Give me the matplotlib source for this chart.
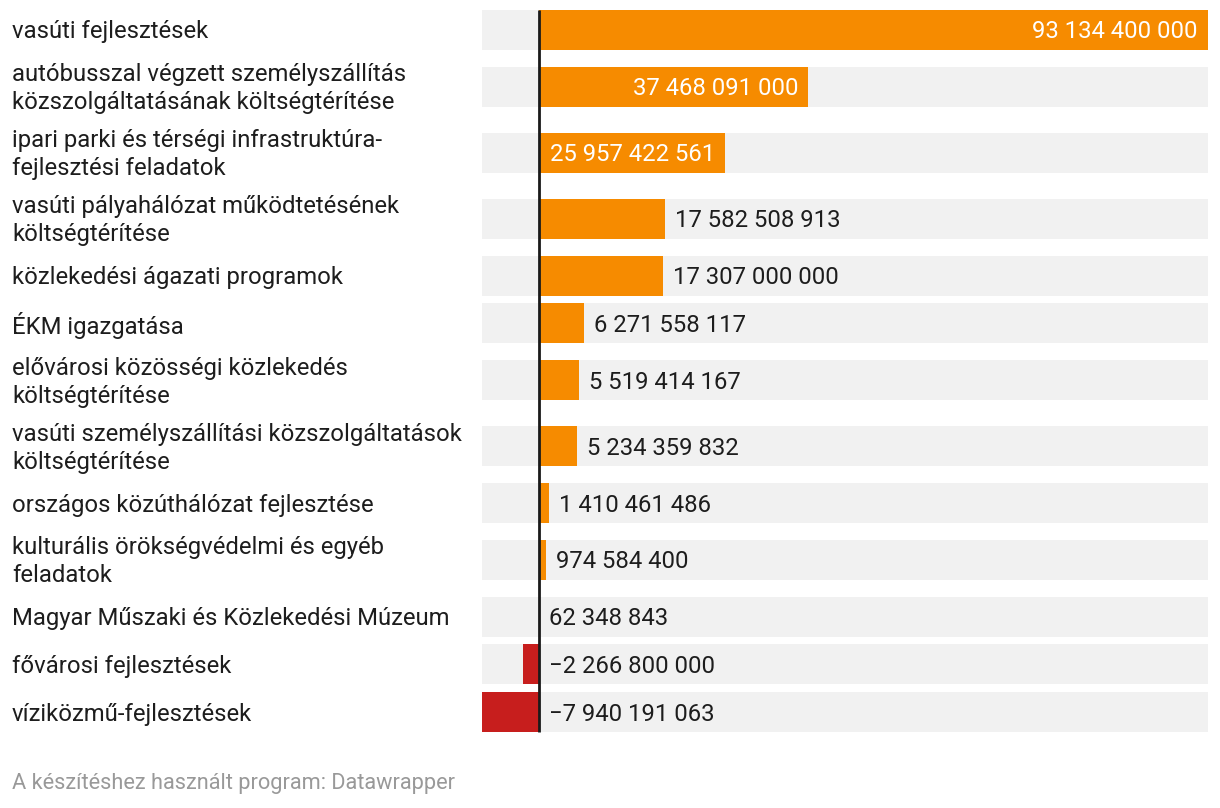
import matplotlib.pyplot as plt
from matplotlib.patches import Rectangle

plt.rcParams['font.family'] = ['Roboto', 'DejaVu Sans']

labels = [
    'vasúti fejlesztések',
    'autóbusszal végzett személyszállítás\nközszolgáltatásának költségtérítése',
    'ipari parki és térségi infrastruktúra-\nfejlesztési feladatok',
    'vasúti pályahálózat működtetésének\nköltségtérítése',
    'közlekedési ágazati programok',
    'ÉKM igazgatása',
    'elővárosi közösségi közlekedés\nköltségtérítése',
    'vasúti személyszállítási közszolgáltatások\nköltségtérítése',
    'országos közúthálózat fejlesztése',
    'kulturális örökségvédelmi és egyéb\nfeladatok',
    'Magyar Műszaki és Közlekedési Múzeum',
    'fővárosi fejlesztések',
    'víziközmű-fejlesztések',
]
values = [
    93134400000, 37468091000, 25957422561, 17582508913, 17307000000,
    6271558117, 5519414167, 5234359832, 1410461486, 974584400,
    62348843, -2266800000, -7940191063,
]
inside = [True, True, True] + [False] * 10

W, H = 1220, 808
ORANGE = '#f68b00'
RED = '#c71e1d'
BG = '#f1f1f1'
TEXT = '#1d1d1d'
FS = 17.2

# row block heights in px: one-line label ~48, two-line label 66
blocks = [47.7 if '\n' not in l else 66 for l in labels]
centers = []
acc = 0
for b in blocks:
    centers.append(acc + b / 2)
    acc += b
total = acc

fig = plt.figure(figsize=(W / 100, H / 100), dpi=100)
top_px = 6.1
ax = fig.add_axes([482 / W, 1 - (top_px + total) / H, 726 / W, total / H])
vmin, vmax = min(values), max(values)
ax.set_xlim(vmin, vmax)
ax.set_ylim(total, 0)
ax.axis('off')

bar_h = 40
px_per_val = 726 / (vmax - vmin)
pad = 10 / px_per_val
dy = 2  # text sits a bit lower than the geometric centre

for lab, v, c, ins in zip(labels, values, centers, inside):
    ax.add_patch(Rectangle((vmin, c - bar_h / 2), vmax - vmin, bar_h,
                           facecolor=BG, edgecolor='none', zorder=1))
    ax.barh(c, v, height=bar_h, color=ORANGE if v >= 0 else RED, zorder=2)
    txt = f'{abs(v):,}'.replace(',', ' ')
    if v < 0:
        txt = '\u2212' + txt
    if ins:
        ax.text(v - pad, c + dy, txt, ha='right', va='center', color='white',
                fontsize=FS, zorder=4)
    else:
        ax.text(max(v, 0) + pad, c + dy, txt, ha='left', va='center', color=TEXT,
                fontsize=FS, zorder=4)
    fig.text(12 / W, 1 - (top_px + c + dy) / H, lab, ha='left', va='center',
             color=TEXT, fontsize=FS, linespacing=1.28)

ax.plot([0, 0], [centers[0] - bar_h / 2, centers[-1] + bar_h / 2],
        color='#1a1a1a', lw=2, zorder=3, solid_capstyle='butt')

fig.text(12 / W, 1 - 784 / H, 'A készítéshez használt program: Datawrapper',
         ha='left', va='center', color='#999999', fontsize=15.7)

fig.savefig('out.png', dpi=100, facecolor='white')
